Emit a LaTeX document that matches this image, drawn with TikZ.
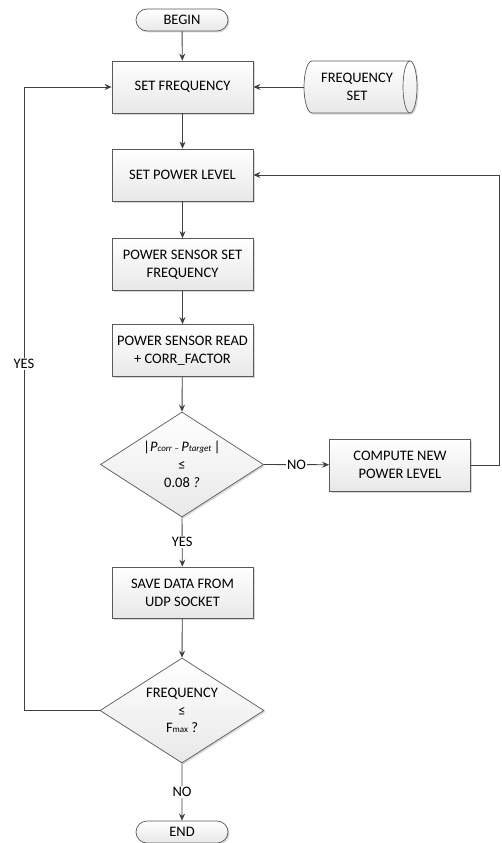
\documentclass[tikz,border=0pt]{standalone}
\usepackage{fontspec}
\setmainfont{Carlito}
\usepackage{tikz}
\usepackage{xcolor}
\usetikzlibrary{arrows.meta,shapes.geometric,shapes.misc,shadows}

\definecolor{lineclr}{HTML}{404040}
\definecolor{edgeclr}{HTML}{5A5A5A}

\begin{document}
\begin{tikzpicture}[x=1pt,y=-1pt,
  font=\fontsize{14.5}{17.7}\selectfont,
  flow/.style={draw=lineclr,line width=0.9pt,-{Stealth[length=7pt,width=6pt]}},
  plain/.style={draw=lineclr,line width=0.9pt},
  boxed/.style={draw=edgeclr,line width=0.7pt,top color=white,bottom color=black!9,
    drop shadow={shadow xshift=1.5pt,shadow yshift=-1.5pt,fill=black!30}},
  process/.style={boxed,rectangle,minimum width=141pt,minimum height=52pt,align=center,inner sep=2pt},
  terminal/.style={boxed,rounded rectangle,minimum width=92pt,minimum height=22pt,inner sep=0pt},
  decision/.style={boxed,diamond,minimum width=163pt,minimum height=105pt,inner sep=0pt},
  lbl/.style={fill=white,inner sep=1.5pt}]
\useasboundingbox (0,0) rectangle (501,843);

% stored data drum
\path[boxed] (312,61) -- (410,61) arc[start angle=90,end angle=-90,x radius=7pt,y radius=26pt]
  -- (312,113) arc[start angle=-90,end angle=-270,x radius=8pt,y radius=26pt] -- cycle;
\draw[edgeclr,line width=0.7pt] (410,61) arc[start angle=90,end angle=270,x radius=7pt,y radius=26pt];
\node[minimum width=106pt,minimum height=52pt,align=center,inner sep=0pt] (fset) at (357,87) {FREQUENCY\\SET};

% main column
\node[terminal] (begin) at (182,20) {BEGIN};
\node[process] (setf) at (182.5,87) {SET FREQUENCY};
\node[process] (setp) at (182.5,175) {SET POWER LEVEL};
\node[process] (psset) at (182.5,264.5) {POWER SENSOR SET\\FREQUENCY};
\node[process] (psread) at (182.5,350.5) {POWER SENSOR READ\\+ CORR\_FACTOR};
\node[decision] (dec1) at (182,464.5) {};
\node[align=center] (dec1t) at (dec1) {{\Large|}\textit{P}{\small\textit{corr}}\,{\small–}\,\textit{P}{\small\textit{target}}\,{\Large|}\\≤\\0.08 \textit{?}};
\node[process] (comp) at (400,465) {COMPUTE NEW\\POWER LEVEL};
\node[process,minimum height=51pt] (save) at (182.5,592.5) {SAVE DATA FROM\\UDP SOCKET};
\node[decision,minimum width=164pt] (dec2) at (182,710.5) {};
\node[align=center] (dec2t) at (dec2) {FREQUENCY\\≤\\F{\small max} ?};
\node[terminal] (end) at (182,832) {END};

% loop corners
\coordinate (yb) at (24,710.5);
\coordinate (yt) at (24,87);
\coordinate (nb) at (499,465);
\coordinate (nt) at (499,175);

% connectors
\draw[flow] (begin) -- (setf);
\draw[flow] (fset.west) -- (setf);
\draw[flow] (setf) -- (setp);
\draw[flow] (setp) -- (psset);
\draw[flow] (psset) -- (psread);
\draw[flow] (psread) -- (dec1.north);
\draw[flow] (dec1.south) -- node[lbl] (yes1) {YES} (save);
\draw[flow] (dec1.east) -- node[lbl] (no1) {NO} (comp);
\draw[flow] (save) -- (dec2.north);
\draw[flow] (dec2.south) -- node[lbl] (no2) {NO} (end);
\draw[plain] (comp.east) -- (nb) -- (nt);
\draw[flow] (nt) -- (setp.east);
\draw[plain] (dec2.west) -- (yb) -- node[lbl,pos=0.556] (yes2) {YES} (yt);
\draw[flow] (yt) -- (setf.west);
\end{tikzpicture}
\end{document}
